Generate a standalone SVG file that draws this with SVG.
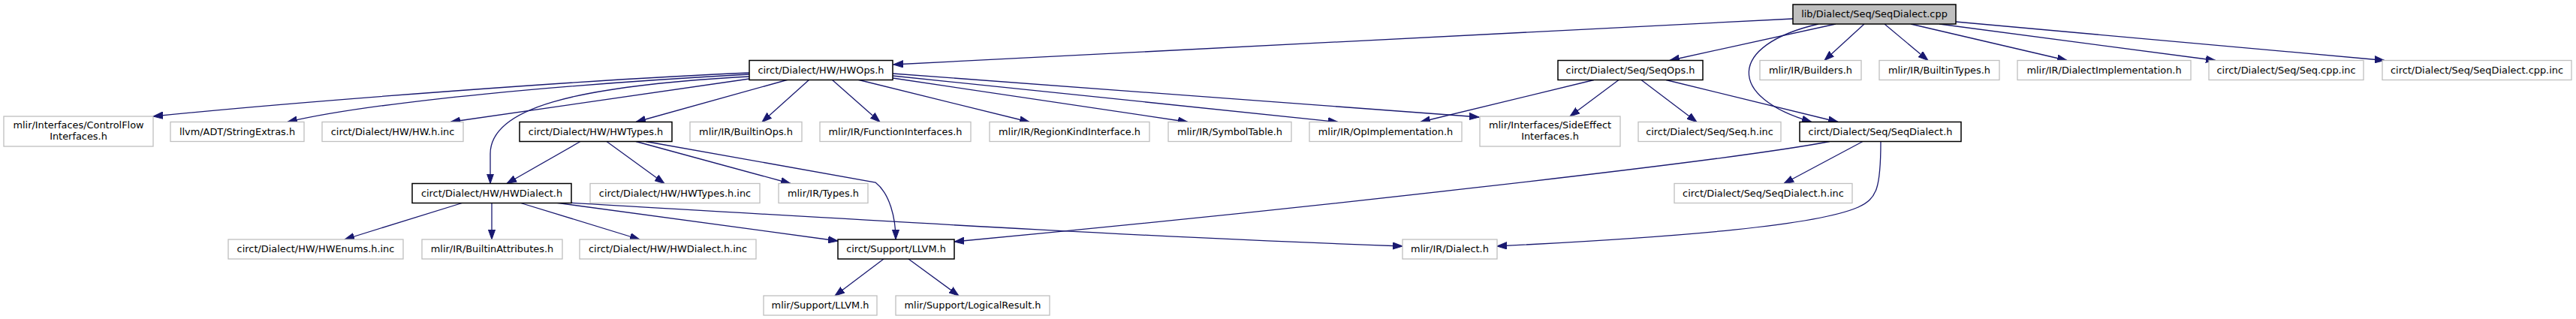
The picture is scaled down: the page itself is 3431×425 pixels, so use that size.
<svg xmlns="http://www.w3.org/2000/svg" width="3431" height="425" viewBox="0 0 3431 425">
<style>
.n rect{fill:#fff;stroke:#bfbfbf;stroke-width:1.3}
.n.k rect{stroke:#000;stroke-width:1.5}
.n.r rect{fill:#bfbfbf;stroke:#000;stroke-width:1.5}
.n text{font-family:"DejaVu Sans",sans-serif;font-size:12.9px;fill:#000;text-anchor:middle}
#edges path{fill:none;stroke:#191970;stroke-width:1.3;marker-end:url(#a)}
</style>
<defs>
<marker id="a" markerWidth="14" markerHeight="10" refX="13" refY="5" orient="auto" markerUnits="userSpaceOnUse"><path d="M0,0.4 L13,5 L0,9.6 z" fill="#191970" stroke="#191970" stroke-width="1"/></marker>
</defs>
<rect width="3431" height="425" fill="#fff"/>
<g id="edges">
<path d="M2388,25 L1190,86"/>
<path d="M2445,32 L2224,80.5"/>
<path d="M2422,32 C2300,60 2300,130 2413,162.5"/>
<path d="M2483,32 L2430,80.5"/>
<path d="M2510,32 L2568,80.5"/>
<path d="M2545,32 L2753,80.5"/>
<path d="M2583,32 L2951,80.5"/>
<path d="M2605,29 L3176,80.5"/>
<path d="M2123,106.5 L1892,162.5"/>
<path d="M2156,106.5 L2091,155"/>
<path d="M2186,106.5 L2260,162.5"/>
<path d="M2219,106.5 L2448,162.5"/>
<path d="M2437,188.5 C2300,215 1700,282 1271,322"/>
<path d="M2481,188.5 L2376,244.5"/>
<path d="M2505,188.5 C2505,250 2500,265 2475,276 C2420,300 2250,315 1994,328"/>
<path d="M998,97 C800,105 400,135 204,155"/>
<path d="M998,99 C760,112 500,135 383,162.5"/>
<path d="M998,105 L600,162.5"/>
<path d="M998,102 C760,115 653,145 653,205 L653,244.5"/>
<path d="M1050,106 L847,162.5"/>
<path d="M1078,106 L1015,162.5"/>
<path d="M1108,106 L1172,162.5"/>
<path d="M1142,106 L1371,162.5"/>
<path d="M1189,104 L1582,162.5"/>
<path d="M1189,101 L1782,162.5"/>
<path d="M1189,98 L1970,156"/>
<path d="M773,188.5 L675,244.5"/>
<path d="M808,188.5 L885,244.5"/>
<path d="M847,188.5 L1053,244.5"/>
<path d="M860,188.5 L1166,243 C1185,258 1193,290 1193,319"/>
<path d="M617,270 L459,319"/>
<path d="M655,270 L655,319"/>
<path d="M692,270 L852,319"/>
<path d="M740,270 L1116,321"/>
<path d="M757,270 C1100,290 1500,315 1868,328"/>
<path d="M1177,345 L1112,394"/>
<path d="M1210,345 L1277,394"/>
</g>
<g id="root" class="n r"><rect x="2388" y="6" width="217" height="26"/><text x="2496.5" y="23">lib/Dialect/Seq/SeqDialect.cpp</text></g>
<g id="hwops" class="n k"><rect x="998" y="80.5" width="191" height="26"/><text x="1093.5" y="97.5">circt/Dialect/HW/HWOps.h</text></g>
<g id="seqops" class="n k"><rect x="2075" y="80.5" width="193" height="26"/><text x="2171.5" y="97.5">circt/Dialect/Seq/SeqOps.h</text></g>
<g id="builders" class="n"><rect x="2344" y="80.5" width="135" height="26"/><text x="2411.5" y="97.5">mlir/IR/Builders.h</text></g>
<g id="builtintypes" class="n"><rect x="2503" y="80.5" width="160" height="26"/><text x="2583" y="97.5">mlir/IR/BuiltinTypes.h</text></g>
<g id="dialectimpl" class="n"><rect x="2687" y="80.5" width="231" height="26"/><text x="2802.5" y="97.5">mlir/IR/DialectImplementation.h</text></g>
<g id="seqcppinc" class="n"><rect x="2942" y="80.5" width="206" height="26"/><text x="3045" y="97.5">circt/Dialect/Seq/Seq.cpp.inc</text></g>
<g id="seqdialectcppinc" class="n"><rect x="3173" y="80.5" width="252" height="26"/><text x="3299" y="97.5">circt/Dialect/Seq/SeqDialect.cpp.inc</text></g>
<g id="controlflow" class="n"><rect x="5" y="155" width="199" height="40"/><text x="104.5" y="171">mlir/Interfaces/ControlFlow</text><text x="104.5" y="186">Interfaces.h</text></g>
<g id="stringextras" class="n"><rect x="227" y="162.5" width="178" height="26"/><text x="316" y="179.5">llvm/ADT/StringExtras.h</text></g>
<g id="hwhinc" class="n"><rect x="429" y="162.5" width="188" height="26"/><text x="523" y="179.5">circt/Dialect/HW/HW.h.inc</text></g>
<g id="hwtypes" class="n k"><rect x="692" y="162.5" width="203" height="26"/><text x="793.5" y="179.5">circt/Dialect/HW/HWTypes.h</text></g>
<g id="builtinops" class="n"><rect x="919" y="162.5" width="149" height="26"/><text x="993.5" y="179.5">mlir/IR/BuiltinOps.h</text></g>
<g id="funcif" class="n"><rect x="1092" y="162.5" width="201" height="26"/><text x="1192.5" y="179.5">mlir/IR/FunctionInterfaces.h</text></g>
<g id="regionkind" class="n"><rect x="1318" y="162.5" width="213" height="26"/><text x="1424.5" y="179.5">mlir/IR/RegionKindInterface.h</text></g>
<g id="symboltable" class="n"><rect x="1556" y="162.5" width="164" height="26"/><text x="1638" y="179.5">mlir/IR/SymbolTable.h</text></g>
<g id="opimpl" class="n"><rect x="1744" y="162.5" width="203" height="26"/><text x="1845.5" y="179.5">mlir/IR/OpImplementation.h</text></g>
<g id="sideeffect" class="n"><rect x="1971" y="155" width="187" height="40"/><text x="2064.5" y="171">mlir/Interfaces/SideEffect</text><text x="2064.5" y="186">Interfaces.h</text></g>
<g id="seqhinc" class="n"><rect x="2182" y="162.5" width="190" height="26"/><text x="2277" y="179.5">circt/Dialect/Seq/Seq.h.inc</text></g>
<g id="seqdialecth" class="n k"><rect x="2397" y="162.5" width="215" height="26"/><text x="2504.5" y="179.5">circt/Dialect/Seq/SeqDialect.h</text></g>
<g id="hwdialect" class="n k"><rect x="549" y="244.5" width="212" height="26"/><text x="655" y="261.5">circt/Dialect/HW/HWDialect.h</text></g>
<g id="hwtypeshinc" class="n"><rect x="786" y="244.5" width="226" height="26"/><text x="899" y="261.5">circt/Dialect/HW/HWTypes.h.inc</text></g>
<g id="types" class="n"><rect x="1037" y="244.5" width="119" height="26"/><text x="1096.5" y="261.5">mlir/IR/Types.h</text></g>
<g id="seqdialecthinc" class="n"><rect x="2230" y="244.5" width="237" height="26"/><text x="2348.5" y="261.5">circt/Dialect/Seq/SeqDialect.h.inc</text></g>
<g id="hwenums" class="n"><rect x="304" y="319" width="233" height="26"/><text x="420.5" y="336">circt/Dialect/HW/HWEnums.h.inc</text></g>
<g id="builtinattrs" class="n"><rect x="562" y="319" width="187" height="26"/><text x="655.5" y="336">mlir/IR/BuiltinAttributes.h</text></g>
<g id="hwdialecthinc" class="n"><rect x="772" y="319" width="235" height="26"/><text x="889.5" y="336">circt/Dialect/HW/HWDialect.h.inc</text></g>
<g id="circtllvm" class="n k"><rect x="1116" y="319" width="155" height="26"/><text x="1193.5" y="336">circt/Support/LLVM.h</text></g>
<g id="dialect" class="n"><rect x="1868" y="319" width="126" height="26"/><text x="1931" y="336">mlir/IR/Dialect.h</text></g>
<g id="mlirllvm" class="n"><rect x="1017" y="394" width="151" height="26"/><text x="1092.5" y="411">mlir/Support/LLVM.h</text></g>
<g id="logicalresult" class="n"><rect x="1193" y="394" width="205" height="26"/><text x="1295.5" y="411">mlir/Support/LogicalResult.h</text></g>
</svg>
